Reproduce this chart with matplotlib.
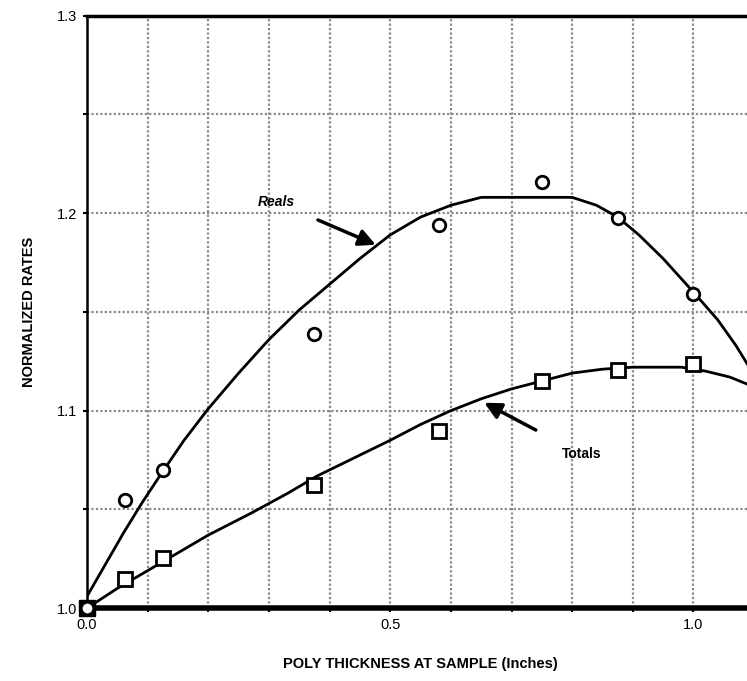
import numpy as np
import matplotlib
matplotlib.use('Agg')
from matplotlib import pyplot as plt

plt.rcParams['font.family'] = ['Liberation Sans', 'DejaVu Sans']

# measured points (thickness in inches, normalized rate)
thick = [0.0, 0.0625, 0.125, 0.375, 0.58, 0.75, 0.875, 1.0]
reals = [1.0, 1.055, 1.070, 1.139, 1.194, 1.216, 1.1975, 1.159]
totals = [1.0, 1.015, 1.0255, 1.0626, 1.0896, 1.115, 1.1206, 1.1237]

# hand-fitted curves through the data
reals_fit_x = [0.0, 0.03, 0.06, 0.09, 0.12, 0.16, 0.2, 0.25, 0.3, 0.35, 0.4, 0.45,
               0.5, 0.55, 0.6, 0.65, 0.8, 0.84, 0.875, 0.91, 0.95, 1.0, 1.04, 1.07, 1.1]
reals_fit_y = [1.006, 1.022, 1.038, 1.053, 1.067, 1.085, 1.101, 1.119, 1.136, 1.151,
               1.164, 1.177, 1.189, 1.198, 1.204, 1.208, 1.208, 1.204, 1.198, 1.189,
               1.177, 1.160, 1.146, 1.133, 1.118]
totals_fit_x = [0.0, 0.05, 0.1, 0.15, 0.2, 0.27, 0.33, 0.38, 0.44, 0.5, 0.55, 0.6,
                0.65, 0.7, 0.75, 0.8, 0.85, 0.9, 0.98, 1.02, 1.06, 1.1]
totals_fit_y = [1.0, 1.010, 1.019, 1.028, 1.037, 1.048, 1.058, 1.067, 1.076, 1.085,
                1.093, 1.100, 1.106, 1.111, 1.115, 1.119, 1.121, 1.122, 1.122, 1.120,
                1.117, 1.112]

fig = plt.figure(figsize=(7.47, 6.81), dpi=100)
ax = fig.add_axes([0.1165, 0.107, 0.893, 0.870])

ax.set_xlim(0, 1.1)
ax.set_ylim(1.0, 1.3)

ax.set_xticks(np.arange(0, 1.11, 0.1))
ax.set_xticklabels(['0.0', '', '', '', '', '0.5', '', '', '', '', '1.0', ''])
ax.set_yticks(np.arange(1.0, 1.301, 0.05))
ax.set_yticklabels(['1.0', '', '1.1', '', '1.2', '', '1.3'])
ax.tick_params(axis='both', direction='out', length=3, width=1.5, labelsize=10.5, pad=4)

ax.grid(True, color='#8a8a8a', linestyle=(0, (1, 1)), linewidth=1.6)
ax.set_axisbelow(True)

ax.spines['left'].set_linewidth(1.8)
ax.spines['bottom'].set_linewidth(4)
ax.spines['top'].set_linewidth(2.5)
ax.spines['right'].set_visible(False)

ax.plot(reals_fit_x, reals_fit_y, color='black', lw=2, solid_joinstyle='round', zorder=3)
ax.plot(totals_fit_x, totals_fit_y, color='black', lw=2, solid_joinstyle='round', zorder=3)

ax.plot(thick[1:], reals[1:], linestyle='none', marker='o', ms=9, mfc='white',
        mec='black', mew=2, zorder=4)
ax.plot(thick[1:], totals[1:], linestyle='none', marker='s', ms=10, mfc='white',
        mec='black', mew=2, zorder=4)
# both series start at (0, 1.0)
ax.plot(thick[0], totals[0], marker='s', ms=12, mfc='black', mec='black',
        clip_on=False, zorder=5)
ax.plot(thick[0], reals[0], marker='o', ms=6, mfc='white', mec='white',
        clip_on=False, zorder=6)

ax.annotate('Reals', xy=(0.476, 1.184), xytext=(0.312, 1.2056),
            fontsize=10, fontweight='bold', fontstyle='italic', ha='center', va='center',
            arrowprops=dict(arrowstyle='-|>,head_length=1.0,head_width=0.5', color='black',
                            lw=2.5, shrinkA=16, shrinkB=0))
ax.annotate('Totals', xy=(0.655, 1.104), xytext=(0.815, 1.078),
            fontsize=10, fontweight='bold', ha='center', va='center',
            arrowprops=dict(arrowstyle='-|>,head_length=1.0,head_width=0.5', color='black',
                            lw=2.5, shrinkA=22, shrinkB=0))

ax.set_xlabel('POLY THICKNESS AT SAMPLE (Inches)', fontsize=10.5, fontweight='bold',
              labelpad=18)
ax.set_ylabel('NORMALIZED RATES', fontsize=10.5, fontweight='bold', labelpad=15)

fig.savefig('out.png', dpi=100)
